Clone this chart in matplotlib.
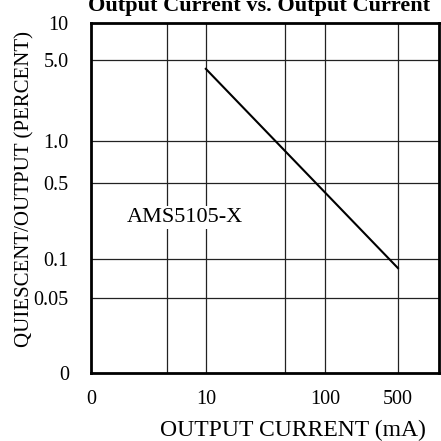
import matplotlib
matplotlib.use("Agg")
import matplotlib.pyplot as plt
import numpy as np

# data
current_ma = [10, 500]
quiescent_pct = [4.2, 0.085]

x_ticks = [1, 10, 100, 500]
x_ticklabels = ["0", "10", "100", "500"]
x_grid = [5, 10, 50, 100, 500]
y_ticks = [0.01, 0.05, 0.1, 0.5, 1, 5, 10]
y_ticklabels = ["0", "0.05", "0.1", "0.5", "1.0", "5.0", "10"]
y_grid = [0.05, 0.1, 0.5, 1, 5]

# the printed scale is log-like but not evenly spaced, so map it piecewise
x_anchor_vals = np.log10([1, 5, 10, 50, 100, 500, 1000])
x_anchor_pos = [0.0, 0.218, 0.330, 0.557, 0.672, 0.882, 1.0]
y_anchor_vals = np.log10([0.01, 0.05, 0.1, 0.5, 1, 5, 10])
y_anchor_pos = [0.0, 0.214, 0.326, 0.543, 0.663, 0.894, 1.0]


def make_scale(vals, pos):
    def fwd(v):
        v = np.clip(np.asarray(v, dtype=float), 1e-6, None)
        return np.interp(np.log10(v), vals, pos)

    def inv(t):
        return 10 ** np.interp(np.asarray(t, dtype=float), pos, vals)

    return fwd, inv


serif = "Liberation Serif"

fig = plt.figure(figsize=(4.41, 4.41), dpi=100)
ax = fig.add_axes([91 / 441, 68 / 441, 348 / 441, 350 / 441])

ax.set_xscale("function", functions=make_scale(x_anchor_vals, x_anchor_pos))
ax.set_yscale("function", functions=make_scale(y_anchor_vals, y_anchor_pos))
ax.set_xlim(1, 1000)
ax.set_ylim(0.01, 10)

for gx in x_grid:
    ax.axvline(gx, color="#222222", linewidth=0.9, zorder=1)
for gy in y_grid:
    ax.axhline(gy, color="#222222", linewidth=0.9, zorder=1)

ax.plot(current_ma, quiescent_pct, color="black", linewidth=1.5, zorder=3)

ax.text(6.9, 0.24, "AMS5105-X", ha="center", va="center", fontsize=16,
        fontname=serif, zorder=4,
        bbox=dict(facecolor="white", edgecolor="none", pad=1.5))

ax.set_xticks(x_ticks)
ax.set_xticklabels(x_ticklabels, fontname=serif, fontsize=14.5)
ax.set_yticks(y_ticks)
ax.set_yticklabels(y_ticklabels, fontname=serif, fontsize=14.5)
ax.minorticks_off()
ax.tick_params(axis="both", length=0)
ax.tick_params(axis="x", pad=12)
ax.tick_params(axis="y", pad=16)

for s in ax.spines.values():
    s.set_linewidth(2.0)

ax.set_xlabel("OUTPUT CURRENT (mA)", fontname=serif, fontsize=17)
ax.xaxis.set_label_coords((293 - 91) / 348, -(430 - 373) / 350)
ax.xaxis.label.set_va("center")
fig.text(25 / 441, 1 - 189 / 441, "QUIESCENT/OUTPUT (PERCENT)", rotation=90,
         ha="center", va="center", fontname=serif, fontsize=15)

fig.text(259 / 441, 1 - 6 / 441, "Output Current vs. Output Current",
         ha="center", va="center", fontname=serif, fontsize=16,
         fontweight="bold")

fig.savefig("out.png", dpi=100)
